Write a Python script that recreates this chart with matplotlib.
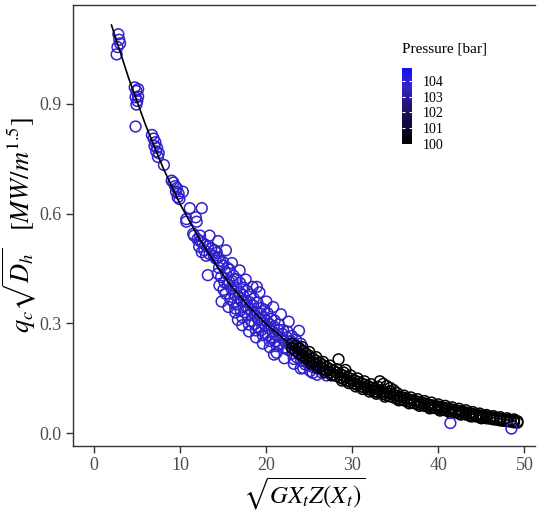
#!/usr/bin/env python3
# coding: utf-8

import matplotlib
matplotlib.use('Agg')
import matplotlib.pyplot as plt
from matplotlib.colors import LinearSegmentedColormap, Normalize
from matplotlib.cm import ScalarMappable

# fitted correlation curve
fit_x = [2, 4, 6, 8, 10, 12, 14, 16, 18, 20, 22, 24, 26, 28, 30, 33, 36, 40, 44, 47, 49]
fit_y = [1.115, 0.97, 0.84, 0.725, 0.625, 0.54, 0.465, 0.40, 0.345, 0.298, 0.258,
         0.222, 0.192, 0.166, 0.144, 0.117, 0.095, 0.072, 0.052, 0.040, 0.033]

# high pressure points (~104 bar)
blue_x = [2.8, 2.9, 2.7, 2.6, 3.0,
          4.7, 4.9, 5.1, 4.8, 5.0, 4.9, 5.1, 4.8,
          6.7, 6.9, 7.1, 7.0, 7.3, 7.2, 7.5, 7.4, 8.1,
          9.0, 9.2, 9.4, 9.6, 9.5, 9.8, 10.3, 9.7, 9.9,
          11.1, 12.5, 11.8, 10.7, 10.7, 11.9, 12.3, 13.4, 11.5,
          11.6, 12.0, 12.3, 12.6, 12.9, 13.2, 13.6, 14.0, 12.2, 12.8, 13.4, 13.9, 14.4, 12.5, 13.0, 13.2,
          14.1, 14.35, 14.25, 14.5, 14.75, 14.62, 14.55, 14.9, 15.15, 15.02, 14.97,
          15.33, 15.52, 15.28, 15.47, 15.68, 15.93, 15.81, 15.74,
          16.08, 16.31, 16.22, 16.17, 16.4, 16.52, 16.73, 16.61, 16.55,
          16.88, 17.12, 17.02, 16.93, 17.2, 17.28, 17.55, 17.43, 17.36,
          17.66, 17.92, 17.83, 17.74, 17.98, 18.07, 18.33, 18.22, 18.16,
          18.47, 18.72, 18.63, 18.55, 18.8, 18.88, 19.13, 19.04, 18.97,
          19.27, 19.52, 19.43, 19.36, 19.6, 19.68, 19.94, 19.83, 19.77,
          20.07, 20.33, 20.22, 20.16, 20.4, 20.47, 20.74, 20.63, 20.56,
          20.86, 21.14, 21.03, 20.97, 21.22, 21.37, 21.63, 21.52, 21.46,
          21.86, 22.12, 22.03, 21.95, 22.38, 22.62, 22.53, 22.46,
          22.85, 23.12, 23.04, 22.96, 23.2, 23.38, 23.63, 23.52, 23.45,
          23.88, 24.12, 24.05, 24.0, 24.37, 24.62, 24.53,
          25.0, 25.1, 25.5, 25.4, 25.9, 26.5, 27.0, 24.6, 24.0,
          14.4, 14.8, 15.3, 15.6, 16.0, 16.4, 16.9, 17.2, 17.6, 18.0,
          18.4, 18.8, 19.2, 19.6, 20.0, 20.4, 20.8, 21.2, 21.7, 22.1,
          22.6, 23.2, 23.8, 24.3, 16.7, 18.9, 20.9]
blue_y = [1.09, 1.075, 1.055, 1.035, 1.065,
          0.945, 0.935, 0.94, 0.918, 0.908, 0.898, 0.92, 0.838,
          0.815, 0.805, 0.795, 0.785, 0.78, 0.77, 0.765, 0.755, 0.733,
          0.69, 0.685, 0.675, 0.67, 0.66, 0.655, 0.66, 0.645, 0.64,
          0.615, 0.615, 0.59, 0.585, 0.578, 0.578, 0.54, 0.54, 0.545,
          0.54, 0.53, 0.525, 0.52, 0.515, 0.51, 0.505, 0.50, 0.51, 0.50, 0.49, 0.485, 0.48, 0.495, 0.485, 0.432,
          0.478, 0.436, 0.493, 0.452, 0.427, 0.471, 0.404, 0.458, 0.412, 0.392, 0.468,
          0.437, 0.407, 0.381, 0.452, 0.414, 0.396, 0.366, 0.447,
          0.415, 0.378, 0.357, 0.431, 0.341, 0.398, 0.371, 0.352, 0.421,
          0.386, 0.361, 0.336, 0.411, 0.317, 0.378, 0.349, 0.331, 0.398,
          0.362, 0.341, 0.322, 0.389, 0.297, 0.358, 0.331, 0.307, 0.379,
          0.349, 0.321, 0.298, 0.368, 0.281, 0.331, 0.312, 0.287, 0.357,
          0.328, 0.302, 0.282, 0.342, 0.268, 0.318, 0.293, 0.272, 0.338,
          0.307, 0.287, 0.268, 0.328, 0.252, 0.297, 0.278, 0.258, 0.312,
          0.292, 0.268, 0.251, 0.308, 0.238, 0.283, 0.262, 0.242, 0.297,
          0.272, 0.251, 0.233, 0.282, 0.262, 0.243, 0.228, 0.278,
          0.252, 0.233, 0.218, 0.266, 0.203, 0.242, 0.223, 0.208, 0.256,
          0.232, 0.213, 0.198, 0.177, 0.222, 0.203, 0.188,
          0.185, 0.17, 0.18, 0.165, 0.16, 0.165, 0.158, 0.195, 0.245,
          0.525, 0.36, 0.50, 0.345, 0.465, 0.33, 0.445, 0.295, 0.42, 0.278,
          0.40, 0.262, 0.385, 0.245, 0.36, 0.235, 0.345, 0.22, 0.325, 0.205,
          0.305, 0.19, 0.28, 0.178, 0.31, 0.40, 0.215]
blue_pressure = 103.8

# low pressure points (~100 bar)
black_x = [23.0, 23.0, 23.4, 23.4, 23.8, 23.8, 24.2, 24.2, 24.2, 24.6, 24.6,
           25.0, 25.0, 25.0, 25.4, 25.4, 25.8, 25.8, 25.8, 26.2, 26.2,
           26.6, 26.6, 26.6, 27.0, 27.0, 27.4, 27.4, 27.4, 27.8, 27.8,
           28.2, 28.2, 28.2, 28.4, 28.6, 28.6, 29.0, 29.0, 29.0, 29.2,
           29.4, 29.4, 29.8, 29.8, 29.8, 30.2, 30.2, 30.6, 30.6, 30.6,
           31.0, 31.0, 31.4, 31.4, 31.4, 31.8, 31.8, 32.2, 32.2, 32.2,
           32.6, 32.6, 33.0, 33.0, 33.0, 33.2, 33.6, 33.6, 33.6,
           34.0, 34.0, 34.0, 34.4, 34.4, 34.4, 34.4, 34.8, 34.8, 34.8,
           35.2, 35.2, 35.2, 35.6, 35.6, 36.0, 36.0, 36.0, 36.4, 36.4,
           36.8, 36.8, 36.8, 37.2, 37.2, 37.6, 37.6, 37.6, 38.0, 38.0,
           38.4, 38.4, 38.4, 38.8, 38.8, 39.2, 39.2, 39.2, 39.6, 39.6,
           40.0, 40.0, 40.0, 40.4, 40.4, 40.8, 40.8, 40.8, 41.2, 41.2,
           41.6, 41.6, 41.6, 42.0, 42.0, 42.4, 42.4, 42.4, 42.8, 42.8,
           43.2, 43.2, 43.2, 43.6, 43.6, 44.0, 44.0, 44.0, 44.4, 44.4,
           44.8, 44.8, 44.8, 45.2, 45.2, 45.6, 45.6, 45.6, 46.0, 46.0,
           46.4, 46.4, 46.4, 46.8, 46.8, 47.2, 47.2, 47.2, 47.6, 47.6,
           48.0, 48.0, 48.0, 48.4, 48.4, 48.8, 48.8, 48.8, 49.2, 49.2,
           25.2, 26.0, 26.8, 27.6, 28.8, 29.6, 30.4, 31.2, 32.0, 32.8,
           33.8, 35.4, 36.6, 37.8, 39.0, 40.2, 41.4, 42.6, 43.8, 45.0]
black_y = [0.245, 0.232, 0.238, 0.225, 0.232, 0.218, 0.225, 0.212, 0.235, 0.218, 0.205,
           0.212, 0.200, 0.222, 0.205, 0.194, 0.198, 0.188, 0.208, 0.193, 0.182,
           0.186, 0.176, 0.195, 0.181, 0.170, 0.175, 0.166, 0.185, 0.171, 0.160,
           0.166, 0.156, 0.175, 0.202, 0.162, 0.152, 0.157, 0.148, 0.166, 0.173,
           0.153, 0.144, 0.149, 0.140, 0.158, 0.145, 0.136, 0.141, 0.132, 0.150,
           0.137, 0.128, 0.133, 0.125, 0.142, 0.129, 0.121, 0.125, 0.118, 0.134,
           0.122, 0.114, 0.119, 0.111, 0.127, 0.142, 0.135, 0.114, 0.107,
           0.129, 0.111, 0.104, 0.124, 0.108, 0.101, 0.115, 0.118, 0.105, 0.098,
           0.102, 0.095, 0.110, 0.099, 0.092, 0.097, 0.090, 0.103, 0.094, 0.087,
           0.091, 0.085, 0.098, 0.089, 0.082, 0.086, 0.080, 0.093, 0.084, 0.078,
           0.082, 0.075, 0.088, 0.079, 0.073, 0.077, 0.071, 0.084, 0.075, 0.069,
           0.073, 0.067, 0.079, 0.071, 0.065, 0.069, 0.063, 0.075, 0.067, 0.061,
           0.065, 0.059, 0.071, 0.063, 0.057, 0.061, 0.055, 0.067, 0.059, 0.053,
           0.057, 0.051, 0.063, 0.055, 0.049, 0.053, 0.047, 0.058, 0.051, 0.046,
           0.049, 0.044, 0.054, 0.048, 0.043, 0.046, 0.041, 0.050, 0.044, 0.040,
           0.043, 0.038, 0.047, 0.041, 0.037, 0.040, 0.035, 0.044, 0.038, 0.034,
           0.037, 0.033, 0.041, 0.036, 0.032, 0.035, 0.030, 0.038, 0.033, 0.029,
           0.190, 0.178, 0.167, 0.158, 0.144, 0.137, 0.128, 0.121, 0.114, 0.108,
           0.100, 0.090, 0.082, 0.075, 0.068, 0.062, 0.056, 0.051, 0.046, 0.041]
black_pressure = 100.1

# a couple of high pressure points at large x
late_x = [41.4, 48.5]
late_y = [0.028, 0.013]
late_pressure = 103.8

cbar_ticks = [100, 101, 102, 103, 104]

plt.rcParams['font.family'] = ['Liberation Serif', 'DejaVu Serif']
plt.rcParams['mathtext.fontset'] = 'stix'

cmap = LinearSegmentedColormap.from_list(
    'pres', ['#000000', '#100838', '#201470', '#3626c0', '#1010ff'])
norm = Normalize(100, 104.8)

fig = plt.figure(figsize=(5.42, 5.13), dpi=100)
ax = fig.add_axes([0.1341, 0.1306, 0.853, 0.8597])

marker = dict(s=60, facecolors='none', linewidths=1.1)
ax.scatter(blue_x, blue_y, edgecolors=[cmap(norm(blue_pressure))], **marker)
ax.scatter(black_x, black_y, edgecolors=[cmap(norm(black_pressure))], **marker)
ax.scatter(late_x, late_y, edgecolors=[cmap(norm(late_pressure))], **marker)
ax.plot(fit_x, fit_y, color='black', lw=1.2)

ax.set_xlim(-2.51, 51.24)
ax.set_ylim(-0.0347, 1.170)
ax.set_xticks([0, 10, 20, 30, 40, 50])
ax.set_yticks([0.0, 0.3, 0.6, 0.9])
ax.set_yticklabels(['0.0', '0.3', '0.6', '0.9'])

for side in ['left', 'bottom', 'top']:
    ax.spines[side].set_color('#333333')
    ax.spines[side].set_linewidth(1.0)
ax.spines['right'].set_visible(False)
ax.tick_params(direction='out', length=5, width=1, color='#333333',
               labelcolor='#4d4d4d', labelsize=13, pad=3)

ax.set_xlabel(r'$\sqrt{GX_tZ(X_t)}$', fontsize=18, labelpad=1)
ax.set_ylabel(r'$q_c\sqrt{D_h}\quad[MW/m^{1.5}]$', fontsize=19, labelpad=0)

# colour legend
cax = fig.add_axes([402 / 542, 1 - 144 / 513, 10 / 542, 76 / 513])
cbar = fig.colorbar(ScalarMappable(norm=norm, cmap=cmap), cax=cax)
cbar.outline.set_visible(False)
cbar.set_ticks(cbar_ticks)
cax.tick_params(direction='in', color='white', length=2, width=0.8,
                left=True, right=True, labelsize=10, pad=8)
fig.text(402 / 542, 1 - 49 / 513, 'Pressure [bar]', fontsize=11, va='center', ha='left')

fig.savefig('out.png', dpi=100)
